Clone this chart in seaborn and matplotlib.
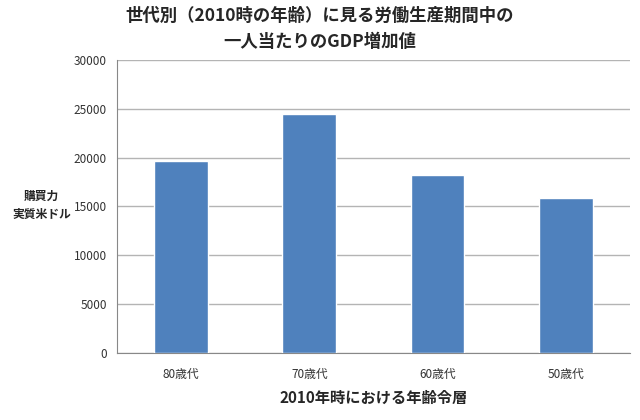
import matplotlib
matplotlib.use("Agg")
import matplotlib.pyplot as plt
import seaborn as sns
import pandas as pd
from matplotlib.ticker import FixedLocator

# データ
categories = ["80歳代", "70歳代", "60歳代", "50歳代"]
values = [19700, 24500, 18200, 15850]

df = pd.DataFrame({"世代": categories, "GDP増加値": values})

sns.set_style("white")
plt.rcParams["font.family"] = ["Noto Sans CJK JP", "DejaVu Sans"]

fig = plt.figure(figsize=(6.4, 4.2), dpi=100)
ax = fig.add_axes([0.183, 0.16, 0.801, 0.697])

sns.barplot(x="世代", y="GDP増加値", data=df, color="#4F81BD", width=0.42,
            saturation=1, ax=ax, zorder=3)

ax.set_ylim(0, 30000)
ax.set_yticks(range(0, 30001, 5000))
ax.set_xlim(-0.5, 3.5)
ax.yaxis.grid(True, color="#b4b4b4", linewidth=1, zorder=0)

# 目盛り
ax.tick_params(axis="y", length=4, color="#888888", labelsize=8.5, labelcolor="#333333")
ax.tick_params(axis="x", which="major", length=0, labelsize=8.5, labelcolor="#333333", pad=11)
ax.xaxis.set_minor_locator(FixedLocator([-0.5, 0.5, 1.5, 2.5, 3.5]))
ax.tick_params(axis="x", which="minor", length=4, color="#888888")

for s in ["top", "right"]:
    ax.spines[s].set_visible(False)
for s in ["left", "bottom"]:
    ax.spines[s].set_color("#888888")

ax.set_xlabel("2010年時における年齢令層", fontsize=11, fontweight="bold", labelpad=6)
ax.set_ylabel("")
fig.text(0.065, 0.51, "購買力\n実質米ドル", ha="center", va="center",
         fontsize=8.5, fontweight="bold", linespacing=1.5)

fig.text(0.5, 0.963, "世代別（2010時の年齢）に見る労働生産期間中の", ha="center", va="center",
         fontsize=12.5, fontweight="bold")
fig.text(0.5, 0.9, "一人当たりのGDP増加値", ha="center", va="center",
         fontsize=12.5, fontweight="bold")

plt.savefig("out.png", dpi=100)
plt.close()
